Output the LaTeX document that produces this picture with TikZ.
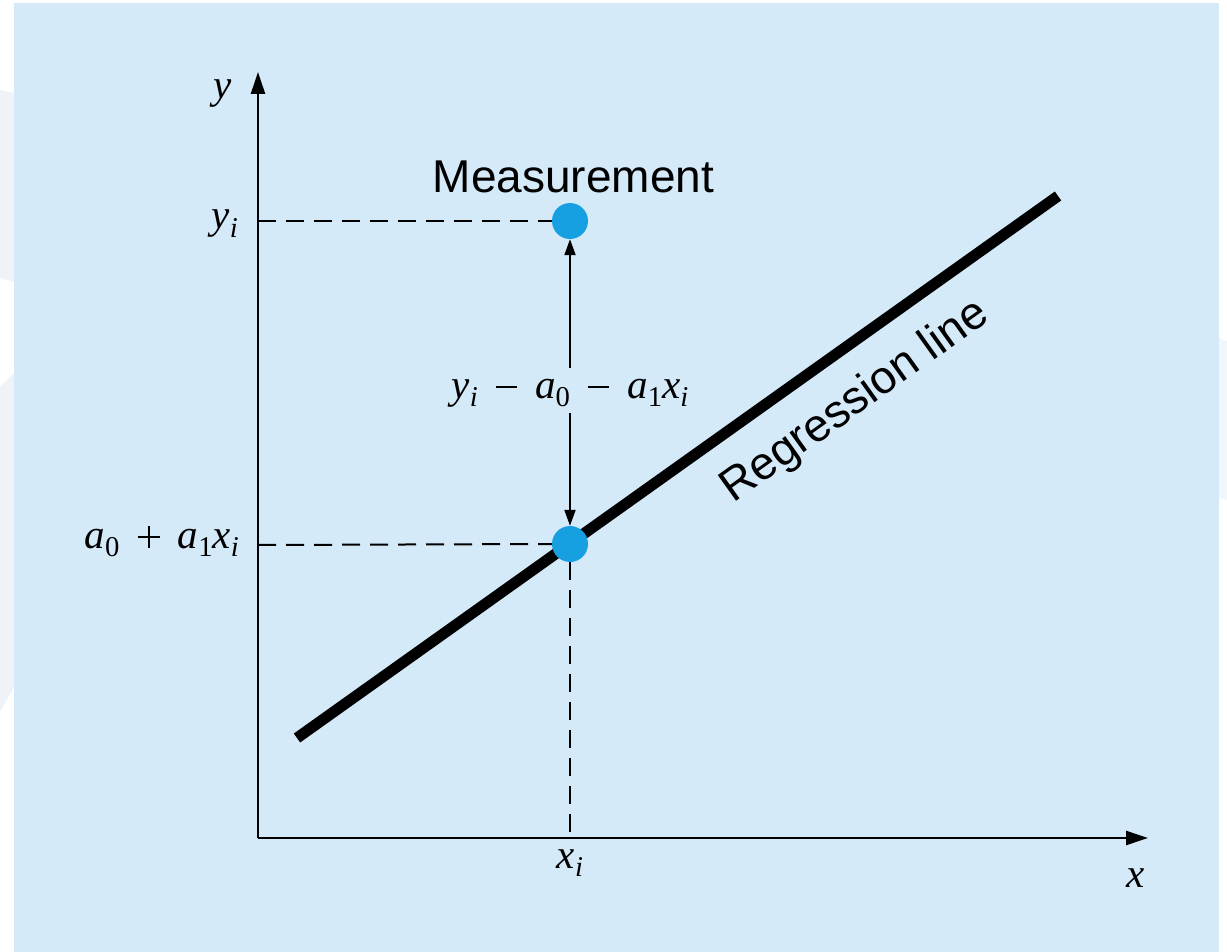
\documentclass[tikz,border=0pt]{standalone}
\usepackage{fontspec}
\usepackage{graphicx}
\setmainfont{Liberation Serif}
\newfontfamily\hvfont{Liberation Sans}
\usetikzlibrary{arrows.meta}
\definecolor{panelblue}{RGB}{213,234,249}
\definecolor{dotblue}{RGB}{22,160,226}
\definecolor{leftgray}{RGB}{239,243,247}
\definecolor{rightpale}{RGB}{240,247,252}
\newcommand\lsub[1]{\raisebox{-0.2em}{\scalebox{0.7}{#1}}}
\newcommand\opgap{\hspace{0.44em}}
\newcommand\mminus{\raisebox{0.24em}{\rule{0.52em}{0.05em}}}
\newcommand\mplus{\raisebox{0.24em}{\rule{0.54em}{0.05em}}\hspace{-0.295em}\raisebox{-0.005em}{\rule{0.05em}{0.54em}}\hspace{0.245em}}
\begin{document}
\begin{tikzpicture}[x=1pt,y=-1pt,
  mathlbl/.style={font=\fontsize{41}{49}\selectfont, inner sep=0pt},
  sanslbl/.style={font=\hvfont\fontsize{46}{55}\selectfont, inner sep=0pt},
  dotnode/.style={circle, fill=dotblue, minimum size=36pt, inner sep=0pt},
  axisline/.style={line width=2.5pt, -{Triangle[length=22pt,width=14pt]}},
  guide/.style={line width=2pt, dash pattern=on 18pt off 10pt},
  resid/.style={line width=2pt, -{Triangle[length=16pt,width=11pt]}},
  regline/.style={line width=11pt}]
\path[use as bounding box] (0,0) rectangle (1227,952);
% faint shapes outside the panel
\fill[leftgray] (0,90) -- (14,93) -- (14,282) -- (0,278) -- cycle;
\fill[leftgray] (0,387) -- (14,373) -- (14,687) -- (0,712) -- cycle;
\fill[rightpale] (1219,338) -- (1227,341) -- (1227,500) -- (1219,498) -- cycle;
% panel
\fill[panelblue] (14,3) rectangle (1219,952);
% axes
\coordinate (O) at (258,838);
\coordinate (ytip) at (258,72);
\coordinate (xtip) at (1148,838);
\coordinate (yiax) at (258,221);
\coordinate (fitax) at (258,545);
\coordinate (xiax) at (570,838);
\draw[axisline] (O) -- (ytip);
\draw[axisline] (O) -- (xtip);
% regression line
\coordinate (rstart) at (297,738);
\coordinate (rend) at (1058,196);
\draw[regline] (rstart) -- (rend);
% points
\node[dotnode] (meas) at (570,221) {};
\node[dotnode] (fit) at (570,544) {};
% guides
\draw[guide] (yiax) -- (meas.west);
\draw[guide] (fitax) -- (fit.west);
\draw[guide] (fit.south) -- (xiax);
% residual
\node[mathlbl, anchor=base] (res) at (570,398)
  {\textit{y}\lsub{\textit{i}}\opgap\mminus\opgap\textit{a}\lsub{0}\opgap\mminus\opgap\textit{a}\lsub{1}\textit{x}\lsub{\textit{i}}};
\coordinate (resup) at (570,368);
\coordinate (resdn) at (570,413);
\draw[resid] (resup) -- (meas);
\draw[resid] (resdn) -- (fit);
% labels
\node[mathlbl, anchor=base] (ylbl) at (223,99) {\textit{y}};
\node[mathlbl, anchor=base east] (yilbl) at (238,229) {\textit{y}\lsub{\textit{i}}};
\node[mathlbl, anchor=base east] (fitlbl) at (239,548)
  {\textit{a}\lsub{0}\opgap\mplus\opgap\textit{a}\lsub{1}\textit{x}\lsub{\textit{i}}};
\node[mathlbl, anchor=base] (xilbl) at (570,868) {\textit{x}\lsub{\textit{i}}};
\node[mathlbl, anchor=base] (xlbl) at (1136,887) {\textit{x}};
\node[sanslbl, anchor=base] (mlbl) at (573.5,193) {Measurement};
\node[sanslbl, anchor=base west, rotate=35.5] (rlbl) at (733,504) {Regression line};
\end{tikzpicture}
\end{document}
